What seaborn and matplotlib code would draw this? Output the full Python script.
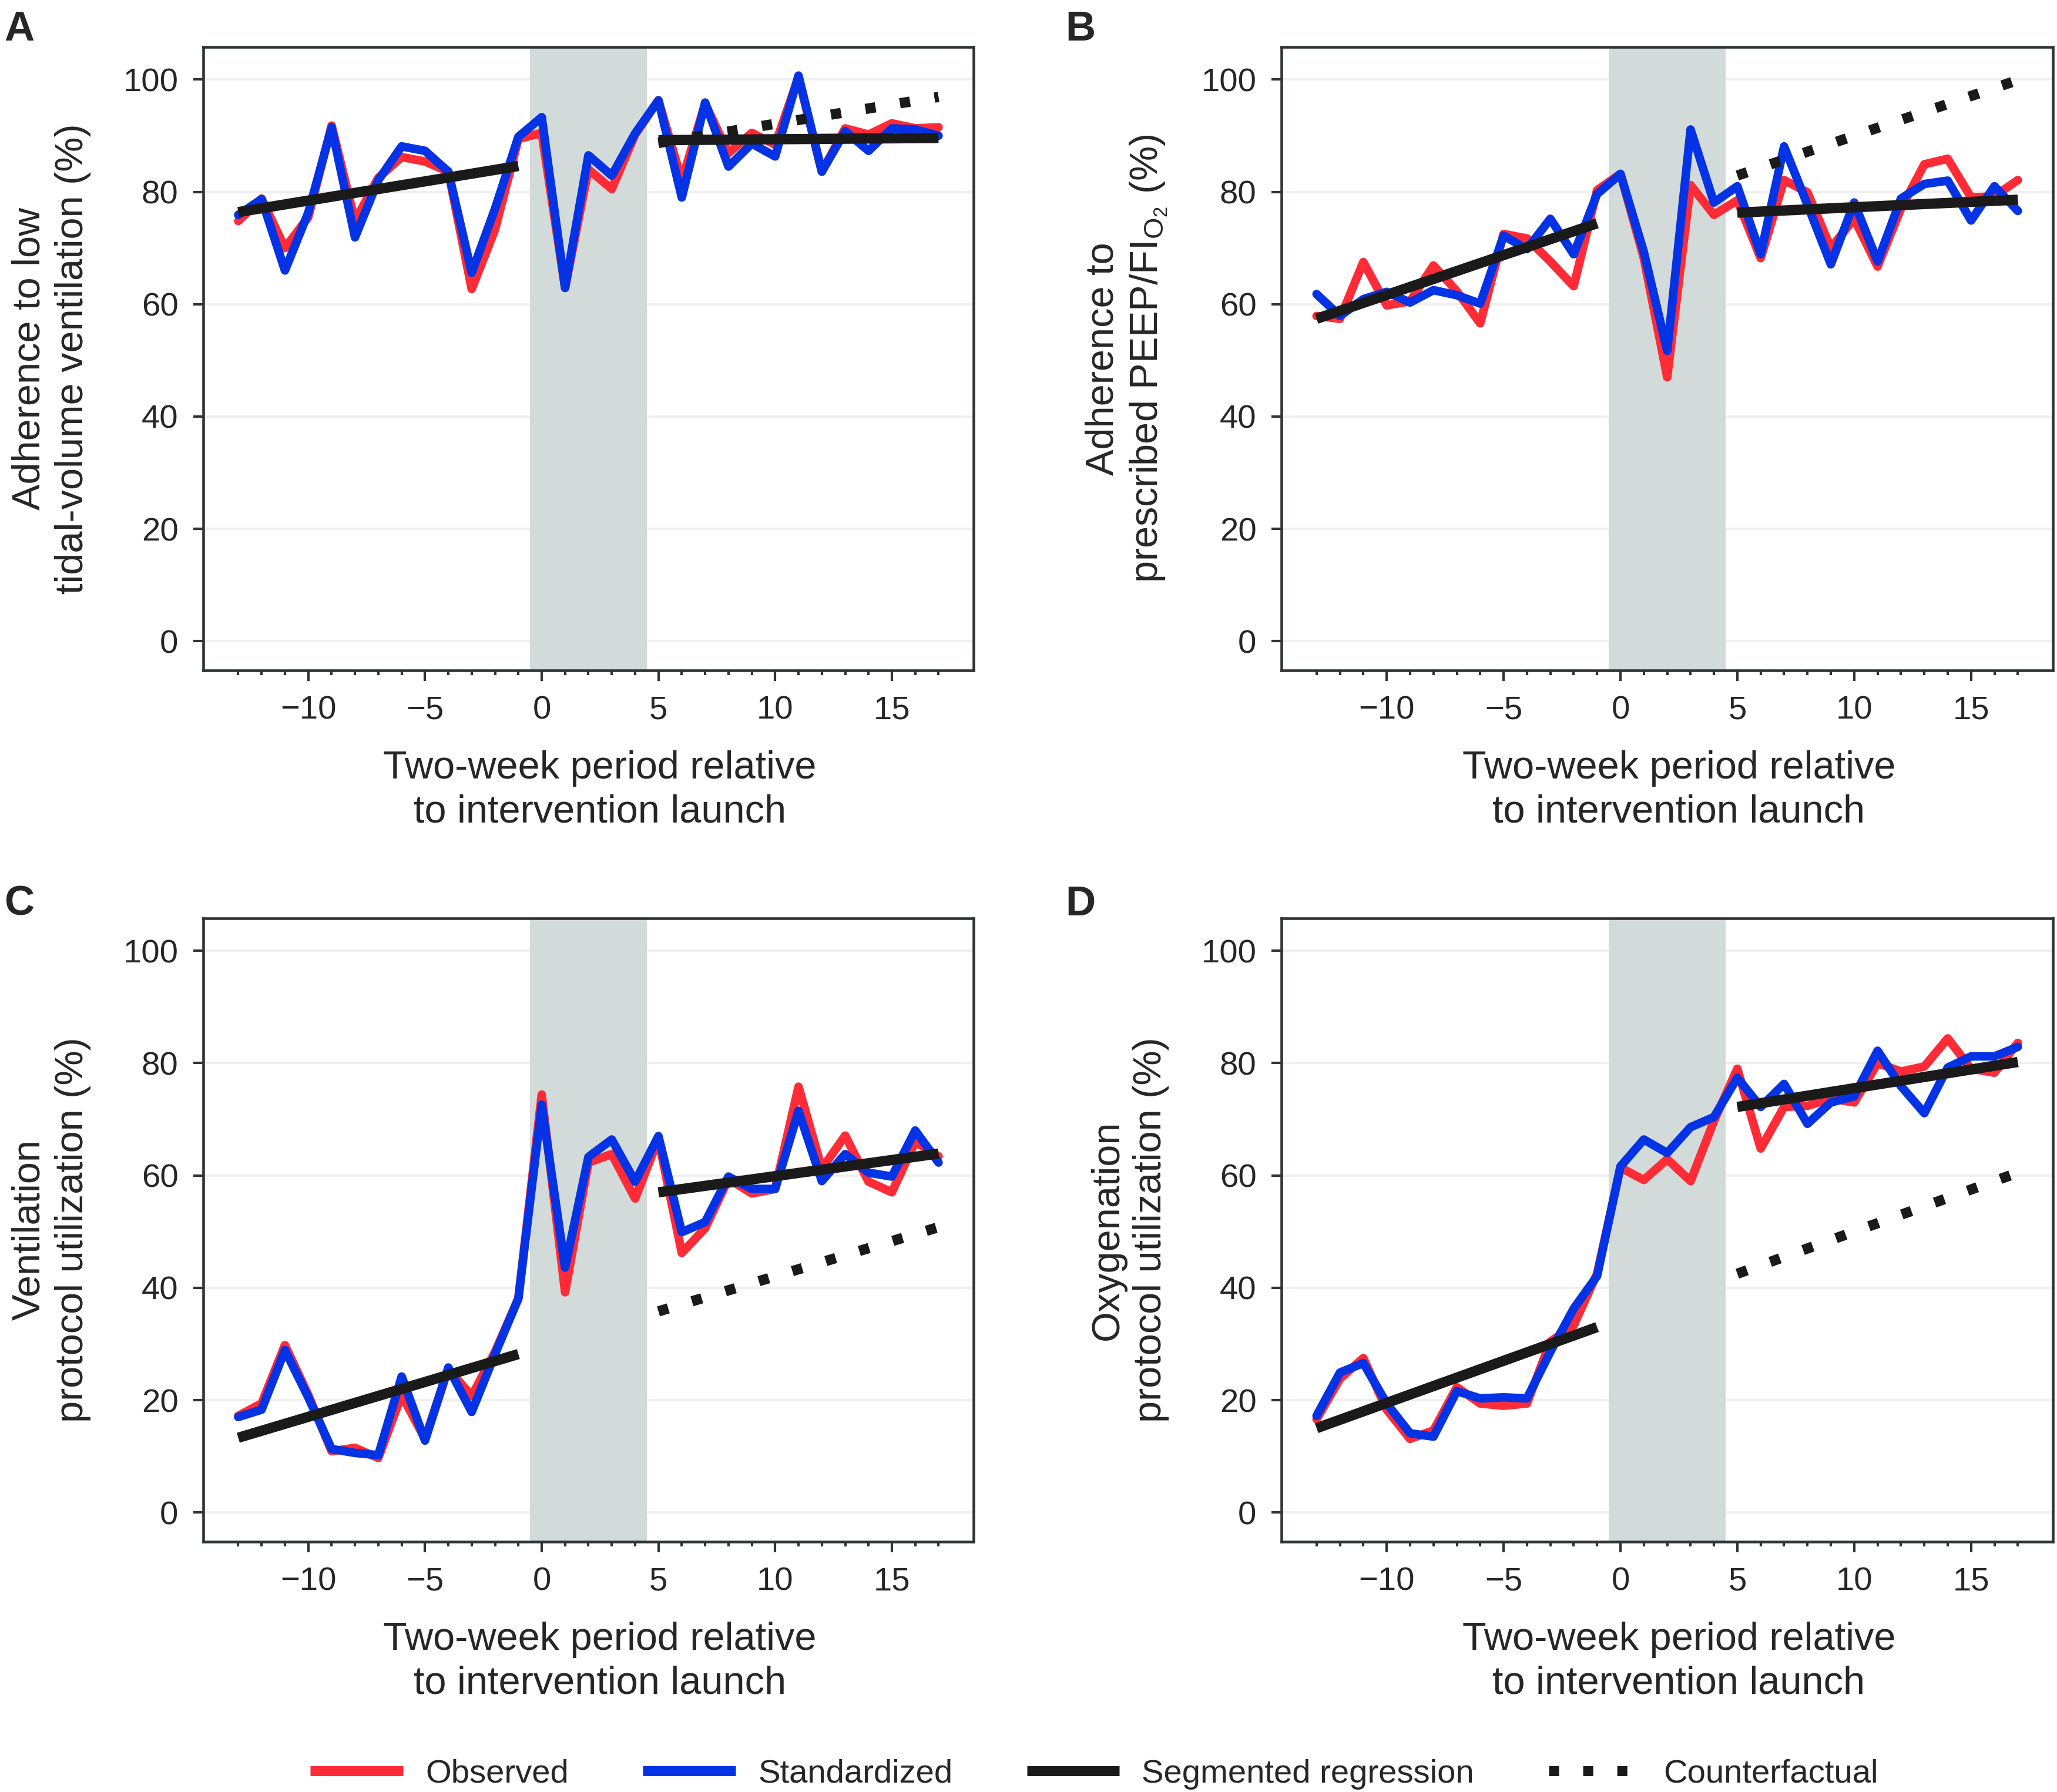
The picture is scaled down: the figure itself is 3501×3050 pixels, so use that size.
import pandas as pd
import seaborn as sns
import matplotlib.pyplot as plt
from matplotlib.lines import Line2D
from matplotlib.ticker import MultipleLocator, FixedLocator

# two-week periods relative to launch
periods = list(range(-13, 18))
pre_x = [-13, -1]
post_x = [5, 17]

# A: low tidal-volume ventilation
obs_a = [74.8, 78.8, 70.0, 75.5, 91.8, 74.8, 82.5, 86.2, 85.4, 83.6, 62.7, 73.3, 89.4, 90.5, 62.9, 84.0,
         80.5, 90.2, 96.3, 82.0, 95.7, 86.9, 90.5, 88.4, 100.4, 83.6, 91.3, 90.2, 92.2, 91.3, 91.5]
std_a = [75.9, 78.7, 66.0, 76.3, 91.5, 71.9, 82.1, 88.1, 87.3, 83.6, 65.6, 77.0, 89.8, 93.3, 62.9, 86.5,
         82.9, 90.4, 96.3, 79.0, 95.9, 84.5, 88.6, 86.3, 100.7, 83.6, 90.8, 87.3, 91.3, 91.1, 90.0]
reg_pre_a = [76.4, 84.6]
reg_post_a = [89.2, 89.6]
cf_a = [88.7, 96.9]

# B: PEEP/FIO2
obs_b = [57.9, 57.4, 67.5, 59.8, 60.5, 66.9, 62.3, 56.6, 72.5, 71.7, 67.6, 63.2, 80.3, 83.2, 68.2, 47.0,
         81.2, 75.9, 78.5, 68.2, 82.1, 79.9, 70.0, 75.2, 66.7, 77.0, 84.9, 85.9, 79.0, 79.2, 82.1]
std_b = [61.8, 57.9, 60.9, 62.2, 60.3, 62.5, 61.6, 60.1, 72.2, 69.8, 75.2, 68.9, 79.6, 83.2, 69.3, 51.7,
         91.1, 78.1, 81.0, 68.9, 88.1, 77.7, 67.1, 78.1, 67.6, 78.8, 81.4, 82.0, 74.9, 81.0, 76.6]
reg_pre_b = [57.4, 74.4]
reg_post_b = [76.3, 78.6]
cf_b = [82.9, 99.9]

# C: ventilation protocol
obs_c = [17.2, 19.4, 29.8, 20.9, 10.9, 11.5, 9.7, 20.9, 13.1, 25.6, 20.7, 28.6, 38.1, 74.4, 39.2, 62.3,
         63.8, 55.9, 66.5, 46.2, 50.6, 59.4, 56.8, 57.6, 75.8, 61.2, 67.1, 58.9, 57.0, 66.0, 63.4]
std_c = [17.0, 18.3, 28.9, 20.5, 11.3, 10.6, 10.2, 24.2, 12.8, 25.8, 17.9, 28.2, 38.1, 72.6, 43.6, 63.3,
         66.4, 58.9, 67.0, 49.9, 51.7, 59.8, 57.6, 57.6, 71.5, 59.0, 63.8, 60.5, 59.8, 68.0, 62.3]
reg_pre_c = [13.3, 28.2]
reg_post_c = [57.0, 63.9]
cf_c = [35.8, 50.8]

# D: oxygenation protocol
obs_d = [16.6, 23.8, 27.5, 18.3, 13.1, 14.6, 22.3, 19.4, 19.0, 19.4, 30.4, 33.3, 42.5, 61.4, 59.2, 62.9,
         59.0, 69.7, 79.0, 64.8, 72.2, 72.4, 73.7, 73.0, 80.0, 78.5, 79.4, 84.4, 79.0, 78.3, 83.6]
std_d = [17.2, 24.9, 26.6, 19.4, 14.1, 13.5, 21.6, 20.3, 20.5, 20.3, 28.6, 36.3, 42.1, 61.6, 66.4, 64.0,
         68.6, 70.4, 77.4, 72.2, 76.3, 69.2, 73.0, 74.1, 82.2, 75.9, 71.1, 79.2, 81.2, 81.2, 82.9]
reg_pre_d = [15.0, 33.0]
reg_post_d = [72.2, 80.2]
cf_d = [42.5, 60.5]

letters = ["A", "B", "C", "D"]
ylabels = [
    "Adherence to low\ntidal-volume ventilation (%)",
    "Adherence to\nprescribed PEEP/FI$_{\\mathrm{O_2}}$ (%)",
    "Ventilation\nprotocol utilization (%)",
    "Oxygenation\nprotocol utilization (%)",
]
xlabel = "Two-week period relative\nto intervention launch"

RED = "#ff2b36"
BLUE = "#0433e6"
BLACK = "#1a1a1a"
SHADE = "#d3dbda"
DOTS = (0, (1.0, 2.4))

sns.set_theme(style="white")
plt.rcParams["font.family"] = ["Liberation Sans", "DejaVu Sans"]
plt.rcParams["mathtext.fontset"] = "custom"
plt.rcParams["mathtext.rm"] = "Liberation Sans"
plt.rcParams["mathtext.it"] = "Liberation Sans:italic"


def draw_panel(ax, obs, std, reg_pre, reg_post, cf, ylab):
    ax.axvspan(-0.5, 4.5, color=SHADE, lw=0, zorder=1)
    df = pd.DataFrame({
        "period": periods * 2,
        "value": obs + std,
        "series": ["Observed"] * len(periods) + ["Standardized"] * len(periods),
    })
    sns.lineplot(data=df, x="period", y="value", hue="series",
                 palette={"Observed": RED, "Standardized": BLUE},
                 lw=3.5, legend=False, ax=ax, zorder=3)
    for xs, ys in [(pre_x, reg_pre), (post_x, reg_post)]:
        sns.lineplot(x=xs, y=ys, color=BLACK, lw=4.2, ax=ax, zorder=4,
                     solid_capstyle="butt")
    sns.lineplot(x=post_x, y=cf, color=BLACK, lw=4.2, ax=ax, zorder=4,
                 linestyle=DOTS, dash_capstyle="butt")

    ax.set_xlim(-14.5, 18.5)
    ax.set_ylim(-5.2, 105.8)
    ax.xaxis.set_major_locator(MultipleLocator(5))
    ax.xaxis.set_minor_locator(FixedLocator(periods))
    ax.yaxis.set_major_locator(MultipleLocator(20))
    ax.set_axisbelow(True)
    ax.grid(axis="y", color="#eeeeee", lw=0.9)
    ax.grid(axis="x", visible=False)
    for sp in ax.spines.values():
        sp.set_color("#2f3535")
        sp.set_linewidth(1.1)
    ax.tick_params(which="major", length=4.2, width=1.0, color="#333333",
                   labelsize=13.5, pad=6, bottom=True, left=True)
    ax.tick_params(axis="x", which="minor", length=2.0, width=1.0,
                   color="#333333", bottom=True)
    ax.set_xlabel(xlabel, fontsize=16, labelpad=10, linespacing=1.25,
                  x=0.515, ha="center")
    ax.set_ylabel(ylab, fontsize=16, labelpad=13, linespacing=1.25)


fig = plt.figure(figsize=(3501 / 300, 3050 / 300), dpi=300)
positions = [
    [0.0988, 0.6259, 0.3745, 0.3479],
    [0.6230, 0.6259, 0.3750, 0.3479],
    [0.0988, 0.1397, 0.3745, 0.3479],
    [0.6230, 0.1397, 0.3750, 0.3479],
]
data = [
    (obs_a, std_a, reg_pre_a, reg_post_a, cf_a),
    (obs_b, std_b, reg_pre_b, reg_post_b, cf_b),
    (obs_c, std_c, reg_pre_c, reg_post_c, cf_c),
    (obs_d, std_d, reg_pre_d, reg_post_d, cf_d),
]
letter_pos = [(0.002, 0.994), (0.518, 0.994), (0.002, 0.506), (0.518, 0.506)]

for pos, d, ylab, letter, lp in zip(positions, data, ylabels, letters, letter_pos):
    ax = fig.add_axes(pos)
    draw_panel(ax, *d, ylab)
    fig.text(lp[0], lp[1], letter, fontsize=17, fontweight="bold", ha="left", va="top")

handles = [
    Line2D([], [], color=RED, lw=4.1, solid_capstyle="butt"),
    Line2D([], [], color=BLUE, lw=4.1, solid_capstyle="butt"),
    Line2D([], [], color=BLACK, lw=4.1, solid_capstyle="butt"),
    Line2D([], [], color=BLACK, lw=4.1, linestyle=DOTS, dash_capstyle="butt"),
]
names = ["Observed", "Standardized", "Segmented regression", "Counterfactual"]
fig.legend(handles, names, loc="center", bbox_to_anchor=(0.532, 0.010), ncol=4,
           frameon=False, fontsize=13.5, handlelength=2.8, handletextpad=0.68,
           columnspacing=2.25, borderaxespad=0)

fig.savefig("out.png", dpi=300, facecolor="white")
